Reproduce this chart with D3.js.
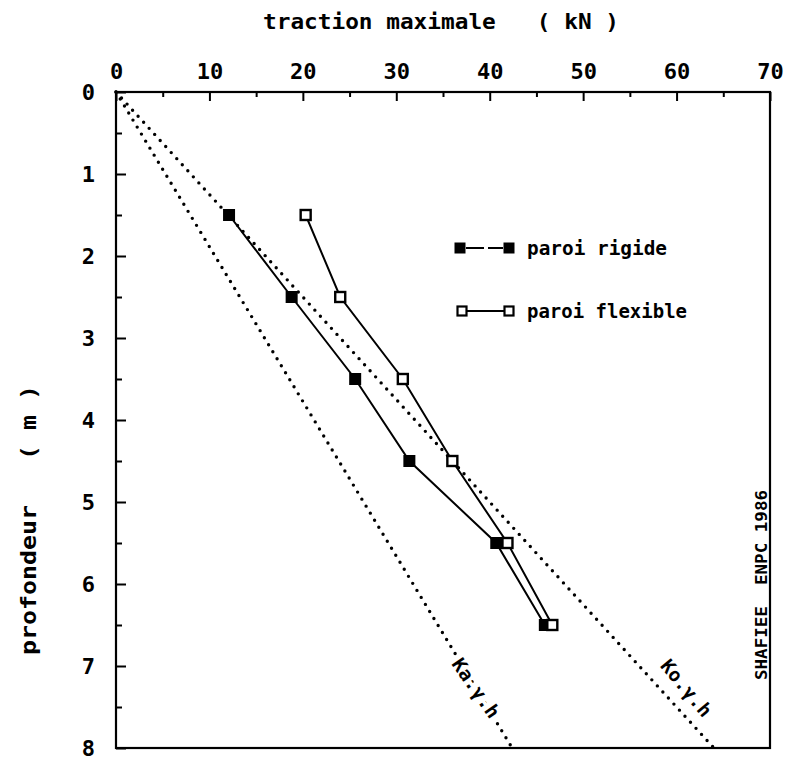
<!DOCTYPE html>
<html><head><meta charset="utf-8">
<script src="https://cdn.jsdelivr.net/npm/d3@7"></script>
<style>
body{margin:0;background:#fff;}
text{font-family:"DejaVu Sans Mono","Liberation Mono",monospace;fill:#000;white-space:pre;}
</style></head>
<body><svg id="c" width="789" height="762"></svg>
<script>
// ---- data ----
const depths = [1.5, 2.5, 3.5, 4.5, 5.5, 6.5];
const rigide = [12.1, 18.8, 25.6, 31.4, 40.7, 45.9];
const flexible = [20.3, 24.0, 30.7, 36.0, 41.9, 46.7];
const kaLine = [[0, 0], [42.4, 8]];   // [traction, profondeur]
const koLine = [[0, 0], [64.0, 8]];
const xTicks = [0, 10, 20, 30, 40, 50, 60, 70];
const xMinor = [5, 15, 25, 35, 45, 55, 65];
const yTicks = [0, 1, 2, 3, 4, 5, 6, 7, 8];
const yMinor = [0.5, 1.5, 2.5, 3.5, 4.5, 5.5, 6.5, 7.5];
const xTitle = "traction maximale   ( kN )";
const yTitle = "profondeur   ( m )";
const legendLabels = ["paroi rigide", "paroi flexible"];
const lineLabels = ["Ka.\u03b3.h", "Ko.\u03b3.h"];
const credit = "SHAFIEE  ENPC 1986";

const svg = d3.select("#c");
const x = d3.scaleLinear().domain([0, 70]).range([116, 770]);
const y = d3.scaleLinear().domain([0, 8]).range([92, 748]);

// axes
const gx = svg.append("g").attr("transform", `translate(0,${y(0)})`)
  .call(d3.axisTop(x).tickValues(xTicks).tickSize(-9).tickPadding(13).tickFormat(d3.format("d")));
const gxm = svg.append("g").attr("transform", `translate(0,${y(0)})`)
  .call(d3.axisTop(x).tickValues(xMinor).tickSize(-5).tickFormat(""));
const gy = svg.append("g").attr("transform", `translate(${x(0)},0)`)
  .call(d3.axisLeft(y).tickValues(yTicks).tickSize(-10).tickPadding(21).tickFormat(d3.format("d")));
const gym = svg.append("g").attr("transform", `translate(${x(0)},0)`)
  .call(d3.axisLeft(y).tickValues(yMinor).tickSize(-6).tickFormat(""));
[gx, gxm, gy, gym].forEach(g => {
  g.select(".domain").remove();
  g.selectAll(".tick line").attr("stroke", "#000").attr("stroke-width", 2);
  g.selectAll(".tick text").attr("font-size", 22).attr("font-weight", "bold")
    .attr("font-family", "DejaVu Sans Mono").attr("fill", "#000");
});
gy.selectAll(".tick text").attr("dy", "0.36em");

// frame
svg.append("rect").attr("x", x(0)).attr("y", y(0))
  .attr("width", x(70) - x(0)).attr("height", y(8) - y(0))
  .attr("fill", "none").attr("stroke", "#000").attr("stroke-width", 2.2);

// dotted reference lines
const ln = d3.line().x(d => x(d[0])).y(d => y(d[1]));
[kaLine, koLine].forEach(l => {
  svg.append("path").attr("d", ln(l)).attr("fill", "none").attr("stroke", "#000")
    .attr("stroke-width", 3.4).attr("stroke-linecap", "round").attr("stroke-dasharray", "0 8.2");
});

// line labels
function lineLabel(l, depth, txt, off, ang, halo) {
  const xv = l[0][0] + (l[1][0] - l[0][0]) * depth / l[1][1];
  const t = svg.append("text").attr("transform", `translate(${x(xv) + off},${y(depth)}) rotate(${ang})`)
    .attr("text-anchor", "middle").attr("dy", "0.35em").attr("font-size", 19).attr("font-weight", "bold")
    .attr("font-family", "DejaVu Sans").attr("textLength", 68).attr("lengthAdjust", "spacingAndGlyphs").text(txt);
  if (halo) t.attr("stroke", "#fff").attr("stroke-width", 7).attr("paint-order", "stroke");
}
lineLabel(kaLine, 7.27, lineLabels[0], 0, 55, true);
lineLabel(koLine, 7.27, lineLabels[1], 27, 50, false);

// series
const pts = (vals) => vals.map((v, i) => [v, depths[i]]);
svg.append("path").attr("d", ln(pts(rigide))).attr("fill", "none").attr("stroke", "#000").attr("stroke-width", 2);
svg.append("path").attr("d", ln(pts(flexible))).attr("fill", "none").attr("stroke", "#000").attr("stroke-width", 2);
svg.selectAll(".rg").data(pts(rigide)).join("rect").attr("class", "rg")
  .attr("x", d => x(d[0]) - 6).attr("y", d => y(d[1]) - 6).attr("width", 12).attr("height", 12).attr("fill", "#000");
svg.selectAll(".fl").data(pts(flexible)).join("rect").attr("class", "fl")
  .attr("x", d => x(d[0]) - 5).attr("y", d => y(d[1]) - 5).attr("width", 10).attr("height", 10)
  .attr("fill", "#fff").attr("stroke", "#000").attr("stroke-width", 2.4);

// legend
const lg = svg.append("g");
lg.append("line").attr("x1", 466).attr("x2", 503).attr("y1", 248).attr("y2", 248)
  .attr("stroke", "#000").attr("stroke-width", 2).attr("stroke-dasharray", "18 4 15");
lg.selectAll(".lr").data([460, 509]).join("rect").attr("x", d => d - 5.5).attr("y", 242.5)
  .attr("width", 11).attr("height", 11).attr("fill", "#000");
lg.append("line").attr("x1", 466).attr("x2", 504).attr("y1", 311).attr("y2", 311)
  .attr("stroke", "#000").attr("stroke-width", 2);
lg.selectAll(".lf").data([462, 509]).join("rect").attr("x", d => d - 4.5).attr("y", 306.5)
  .attr("width", 9).attr("height", 9).attr("fill", "#fff").attr("stroke", "#000").attr("stroke-width", 2.2);
lg.append("text").attr("x", 527).attr("y", 255).attr("font-size", 19).attr("font-weight", "bold")
  .attr("textLength", 140).attr("lengthAdjust", "spacingAndGlyphs").text(legendLabels[0]);
lg.append("text").attr("x", 527).attr("y", 318).attr("font-size", 19).attr("font-weight", "bold")
  .attr("textLength", 160).attr("lengthAdjust", "spacingAndGlyphs").text(legendLabels[1]);

// titles
svg.append("text").attr("x", 441).attr("y", 29).attr("text-anchor", "middle")
  .attr("font-size", 21).attr("font-weight", "bold").attr("textLength", 356).attr("lengthAdjust", "spacingAndGlyphs")
  .text(xTitle);
svg.append("text").attr("transform", "translate(36,520) rotate(-90)").attr("text-anchor", "middle")
  .attr("font-size", 21).attr("font-weight", "bold").attr("textLength", 270).attr("lengthAdjust", "spacingAndGlyphs")
  .text(yTitle);
svg.append("text").attr("transform", "translate(767,585) rotate(-90)").attr("text-anchor", "middle")
  .attr("font-size", 15).attr("font-weight", "bold").attr("font-family", "DejaVu Sans")
  .attr("textLength", 190).attr("lengthAdjust", "spacingAndGlyphs").text(credit);
</script></body></html>
